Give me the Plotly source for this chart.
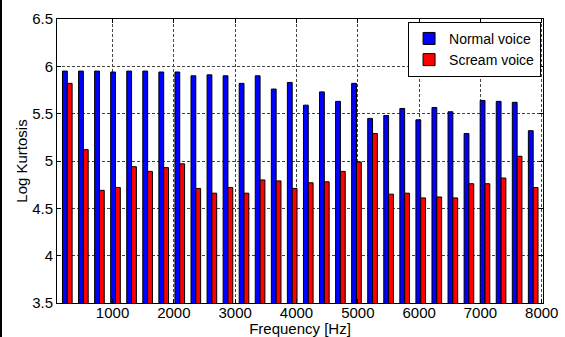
import plotly.graph_objects as go

freqs = [262, 524, 786, 1048, 1310, 1572, 1834, 2096, 2358, 2620,
         2882, 3144, 3406, 3668, 3930, 4192, 4454, 4716, 4978, 5240,
         5502, 5764, 6026, 6288, 6550, 6812, 7074, 7336, 7598, 7860]

normal_voice = [5.95, 5.95, 5.95, 5.94, 5.95, 5.95, 5.94, 5.94, 5.90, 5.91,
                5.90, 5.82, 5.90, 5.76, 5.83, 5.59, 5.73, 5.63, 5.82, 5.45,
                5.48, 5.555, 5.435, 5.565, 5.52, 5.29, 5.64, 5.63, 5.62, 5.32]

scream_voice = [5.82, 5.12, 4.69, 4.72, 4.94, 4.89, 4.93, 4.97, 4.71, 4.66,
                4.72, 4.66, 4.80, 4.79, 4.71, 4.77, 4.78, 4.89, 4.99, 5.29,
                4.65, 4.66, 4.61, 4.62, 4.61, 4.76, 4.76, 4.82, 5.05, 4.72]

x_ticks = [1000, 2000, 3000, 4000, 5000, 6000, 7000, 8000]
y_ticks = [3.5, 4, 4.5, 5, 5.5, 6, 6.5]
y_tick_text = ["3.5", "4", "4.5", "5", "5.5", "6", "6.5"]

font_family = "Arial, Liberation Sans, sans-serif"
fs = 15

fig = go.Figure()
fig.add_trace(go.Bar(x=freqs, y=normal_voice, name="Normal voice",
                     marker=dict(color="#0000ff", line=dict(color="black", width=1))))
fig.add_trace(go.Bar(x=freqs, y=scream_voice, name="Scream voice",
                     marker=dict(color="#ff0000", line=dict(color="black", width=1))))

axis_common = dict(
    showline=True, linecolor="black", linewidth=1, mirror="ticks",
    ticks="inside", ticklen=4, tickcolor="black",
    showgrid=True, gridcolor="#444444", griddash="3px,2px", gridwidth=1,
    zeroline=False, automargin=False,
    tickfont=dict(family=font_family, size=fs, color="black"),
)

fig.update_layout(
    width=565, height=337,
    margin=dict(l=57, r=22, t=19, b=34),
    paper_bgcolor="white", plot_bgcolor="white",
    barmode="group", bargap=0.4, bargroupgap=0,
    font=dict(family=font_family, size=fs, color="black"),
    xaxis=dict(range=[94, 8020], tickvals=x_ticks, ticklabelstandoff=-4,
               title=dict(text="Frequency [Hz]", standoff=2,
                          font=dict(family=font_family, size=fs)),
               **axis_common),
    yaxis=dict(range=[3.5, 6.5], tickvals=y_ticks, ticktext=y_tick_text,
               title=dict(text="Log Kurtosis", standoff=0,
                          font=dict(family=font_family, size=fs)),
               **axis_common),
    legend=dict(x=0.996, y=0.99, xanchor="right", yanchor="top",
                bgcolor="white", bordercolor="black", borderwidth=1,
                font=dict(family=font_family, size=14),
                tracegroupgap=0, itemwidth=30),
    showlegend=True,
)

fig.add_shape(type="line", xref="paper", yref="paper",
              x0=-56 / 486, x1=-56 / 486, y0=-0.2, y1=1.1,
              line=dict(color="black", width=2))

fig.write_html("out.html", config={"displayModeBar": False},
               post_script="document.body.style.margin='0';document.body.style.overflow='hidden';")
